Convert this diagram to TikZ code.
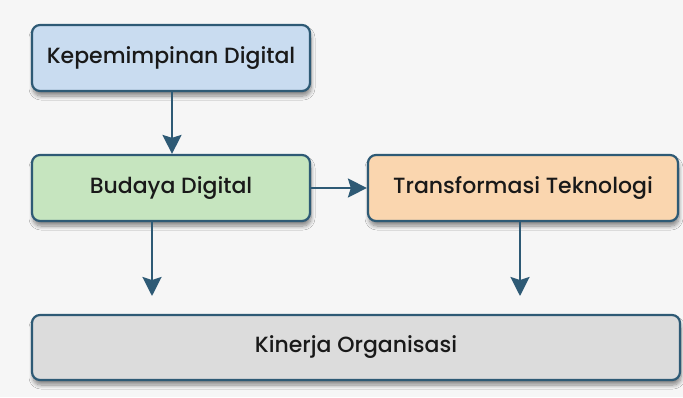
\documentclass[tikz,border=0pt]{standalone}
\usepackage{fontspec}
\setmainfont{Poppins Medium}
\usetikzlibrary{arrows.meta,shadows.blur}
\definecolor{edge}{HTML}{2E5A75}
\definecolor{bg}{HTML}{F6F6F6}
\definecolor{fblue}{HTML}{C9DCF0}
\definecolor{fgreen}{HTML}{C6E5BF}
\definecolor{forange}{HTML}{FAD6AF}
\definecolor{fgray}{HTML}{DCDCDC}
\tikzset{
  box/.style={draw=edge, line width=2.2pt, rounded corners=8pt, inner sep=0pt,
    font=\fontsize{22}{26}\selectfont, text=black!90,
    blur shadow={shadow xshift=1pt, shadow yshift=-5pt, shadow blur radius=4pt, shadow blur steps=8, shadow opacity=45}},
  conn/.style={draw=edge, line width=2.5pt, -{Stealth[width=19pt,length=19pt,inset=3pt]}}
}
\begin{document}
\begin{tikzpicture}[x=1pt,y=-1pt]
\fill[bg] (0,0) rectangle (683,397);
\useasboundingbox (0,0) rectangle (683,397);
\node[box, fill=fblue, minimum width=278pt, minimum height=66pt] (kd) at (171,58) {Kepemimpinan Digital};
\node[box, fill=fgreen, minimum width=278pt, minimum height=66pt] (bd) at (171,188) {Budaya Digital};
\node[box, fill=forange, minimum width=310pt, minimum height=66pt] (tt) at (523,188) {Transformasi Teknologi};
\node[box, fill=fgray, minimum width=648pt, minimum height=65pt] (ko) at (356,347.5) {Kinerja Organisasi};
\coordinate (e1) at (152,296);
\coordinate (e2) at (520,296);
\draw[conn] (kd.south -| 172,0) -- (bd.north -| 172,0);
\draw[conn] (bd.east) -- (tt.west);
\draw[conn] (bd.south -| e1) -- (e1);
\draw[conn] (tt.south -| e2) -- (e2);
\end{tikzpicture}
\end{document}
